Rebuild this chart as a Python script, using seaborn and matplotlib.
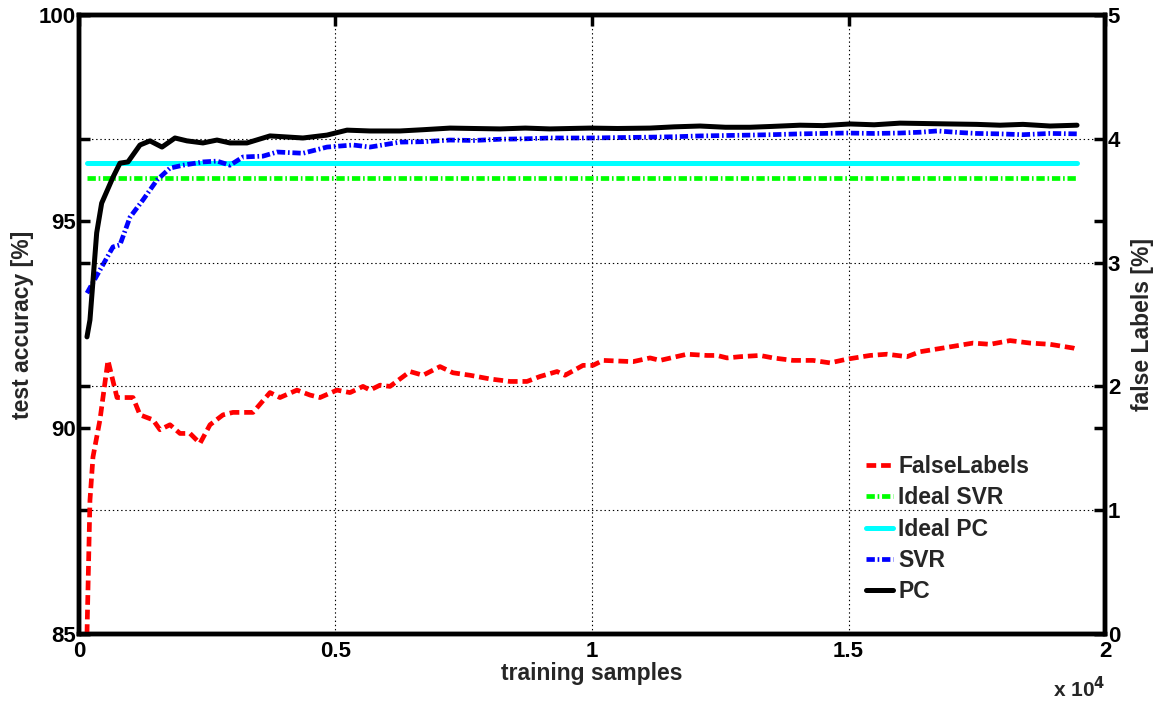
import numpy as np
import pandas as pd
import matplotlib
matplotlib.use("Agg")
import matplotlib.pyplot as plt
import seaborn as sns

# ---------------- data ----------------
pc_x = [156, 214, 345, 442, 663, 799, 955, 1189, 1384, 1618, 1871, 2105, 2417, 2690, 2943, 3275,
        3723, 4366, 4834, 5224, 5673, 6257, 6700, 7232, 7700, 8207, 8700, 9181, 9961, 10500, 11131,
        11600, 12105, 12600, 13080, 13500, 14055, 14500, 15029, 15500, 16004, 16500, 16979, 17500,
        17953, 18400, 18928, 19454]
pc_y = [92.20, 92.61, 94.72, 95.44, 96.07, 96.41, 96.44, 96.85, 96.95, 96.80, 97.02, 96.95, 96.90,
        96.97, 96.90, 96.90, 97.07, 97.02, 97.09, 97.21, 97.19, 97.19, 97.22, 97.26, 97.25, 97.24,
        97.26, 97.24, 97.26, 97.25, 97.26, 97.29, 97.31, 97.28, 97.28, 97.30, 97.33, 97.32, 97.36,
        97.34, 97.38, 97.37, 97.36, 97.35, 97.33, 97.35, 97.31, 97.33]

svr_x = [156, 409, 663, 799, 994, 1248, 1520, 1774, 2027, 2417, 2690, 2943, 3197, 3587, 3860, 4366,
         4834, 5341, 5673, 6257, 6700, 7232, 7700, 8207, 8700, 9181, 9961, 10500, 11131, 11600,
         12105, 12600, 13080, 13500, 14055, 14500, 14970, 15500, 16004, 16400, 16725, 17200, 17500,
         17953, 18400, 18928, 19454]
svr_y = [93.26, 93.82, 94.38, 94.43, 95.10, 95.52, 96.00, 96.29, 96.36, 96.44, 96.46, 96.36, 96.56,
         96.58, 96.68, 96.65, 96.80, 96.85, 96.80, 96.92, 96.93, 96.97, 96.96, 96.99, 97.00, 97.02,
         97.02, 97.03, 97.04, 97.05, 97.07, 97.08, 97.09, 97.10, 97.12, 97.13, 97.14, 97.13, 97.14,
         97.16, 97.19, 97.15, 97.13, 97.12, 97.10, 97.13, 97.12]

fl_x = [156, 214, 273, 409, 565, 741, 1053, 1189, 1442, 1579, 1774, 1969, 2164, 2359, 2554, 2807,
        3002, 3392, 3723, 3918, 4249, 4503, 4698, 5029, 5283, 5536, 5673, 5868, 6062, 6452, 6706,
        7037, 7290, 7622, 8012, 8402, 8733, 8986, 9318, 9474, 9825, 10019, 10214, 10799, 11131,
        11326, 11852, 12242, 12437, 12632, 12885, 13275, 13528, 13918, 14308, 14639, 14970, 15419,
        15750, 16140, 16394, 16842, 17427, 17758, 18148, 18538, 18928, 19376, 19454]
fl_y = [0.0, 1.08, 1.43, 1.73, 2.21, 1.91, 1.91, 1.77, 1.73, 1.65, 1.69, 1.62, 1.62, 1.54, 1.69,
        1.77, 1.79, 1.79, 1.95, 1.91, 1.97, 1.93, 1.91, 1.97, 1.95, 2.00, 1.97, 2.01, 2.00, 2.12,
        2.09, 2.16, 2.11, 2.09, 2.06, 2.04, 2.04, 2.08, 2.12, 2.09, 2.17, 2.17, 2.21, 2.20, 2.23,
        2.21, 2.26, 2.25, 2.25, 2.23, 2.24, 2.25, 2.23, 2.21, 2.21, 2.19, 2.22, 2.25, 2.26, 2.24,
        2.28, 2.31, 2.35, 2.34, 2.37, 2.35, 2.34, 2.31, 2.30]

ideal_x = [156, 19454]
ideal_pc = 96.42
ideal_svr = 96.05

series_labels = ["FalseLabels", "Ideal SVR", "Ideal PC", "SVR", "PC"]
x_ticks = [0, 5000, 10000, 15000, 20000]
x_tick_labels = ["0", "0.5", "1", "1.5", "2"]
left_ticks = [85, 90, 95, 100]
right_ticks = [0, 1, 2, 3, 4, 5]

# ---------------- style ----------------
sns.set_theme(style="white")
plt.rcParams["font.family"] = ["Liberation Sans", "DejaVu Sans"]
plt.rcParams["font.weight"] = "bold"
plt.rcParams["lines.scale_dashes"] = False

fig = plt.figure(figsize=(11.53, 7.02), dpi=100)
ax = fig.add_axes([0.0685, 0.0969, 0.8899, 0.8817])
ax2 = ax.twinx()

dashdot = (0, (6, 2.0, 1.2, 2.0))
h_isvr = sns.lineplot(x=ideal_x, y=[ideal_svr] * 2, ax=ax, color="#00ff00", lw=3.4,
                      linestyle=dashdot, legend=False, errorbar=None).get_lines()[-1]
h_ipc = sns.lineplot(x=ideal_x, y=[ideal_pc] * 2, ax=ax, color="#00ffff", lw=3.6,
                     legend=False, errorbar=None).get_lines()[-1]
h_svr = sns.lineplot(x=svr_x, y=svr_y, ax=ax, color="#0000ff", lw=3.4,
                     linestyle=dashdot, legend=False, errorbar=None).get_lines()[-1]
h_pc = sns.lineplot(x=pc_x, y=pc_y, ax=ax, color="black", lw=3.6,
                    legend=False, errorbar=None).get_lines()[-1]
h_fl = sns.lineplot(x=fl_x, y=fl_y, ax=ax2, color="#ff0000", lw=3.4,
                    linestyle=(0, (7, 3.5)), legend=False, errorbar=None).get_lines()[-1]

ax.set_xlim(0, 20000)
ax.set_ylim(85, 100)
ax2.set_ylim(0, 5)
ax.set_xticks(x_ticks)
ax.set_xticklabels(x_tick_labels)
ax.set_yticks(left_ticks)
ax.set_yticklabels([str(t) for t in left_ticks])
ax2.set_yticks(right_ticks)
ax2.set_yticklabels([str(t) for t in right_ticks])

ax2.grid(True, axis="y", color="black", linestyle=(0, (1, 2)), lw=0.8)
ax2.xaxis.grid(False)
ax.grid(True, axis="x", color="black", linestyle=(0, (1, 2)), lw=0.8)
ax.grid(False, axis="y")

for a in (ax, ax2):
    for s in a.spines.values():
        s.set_linewidth(3.2)
        s.set_color("black")
        s.set_visible(True)

TS = 16
ax.tick_params(axis="x", direction="in", length=8, width=2.5, top=True, labelsize=TS, pad=5,
               colors="black")
ax.tick_params(axis="y", direction="in", length=8, width=2.5, left=True, right=True,
               labelleft=True, labelright=False, labelsize=TS, pad=2, colors="black")
ax2.tick_params(axis="y", direction="in", length=8, width=2.5, right=True, left=True,
                labelright=True, labelleft=False, labelsize=TS, pad=2, colors="black")
for lab in ax.get_xticklabels() + ax.get_yticklabels() + ax2.get_yticklabels():
    lab.set_fontweight("bold")

LS = 16.5
ax.set_xlabel("training samples", fontsize=LS, fontweight="bold", labelpad=0)
ax.set_ylabel("test accuracy [%]", fontsize=LS, fontweight="bold", labelpad=4)
ax2.set_ylabel("false Labels [%]", fontsize=LS, fontweight="bold", labelpad=8, rotation=90)
ax.text(1.0, -0.068, r"x 10$^4$", transform=ax.transAxes, ha="right", va="top",
        fontsize=15, fontweight="bold")

handles = [h_fl, h_isvr, h_ipc, h_svr, h_pc]
leg = ax2.legend(handles, series_labels, loc="upper left", bbox_to_anchor=(0.767, 0.289),
                 frameon=False, fontsize=16.5, handlelength=1.2, handletextpad=0.2,
                 labelspacing=0.36, borderaxespad=0, borderpad=0)
for t in leg.get_texts():
    t.set_fontweight("bold")

fig.savefig("out.png", dpi=100)
